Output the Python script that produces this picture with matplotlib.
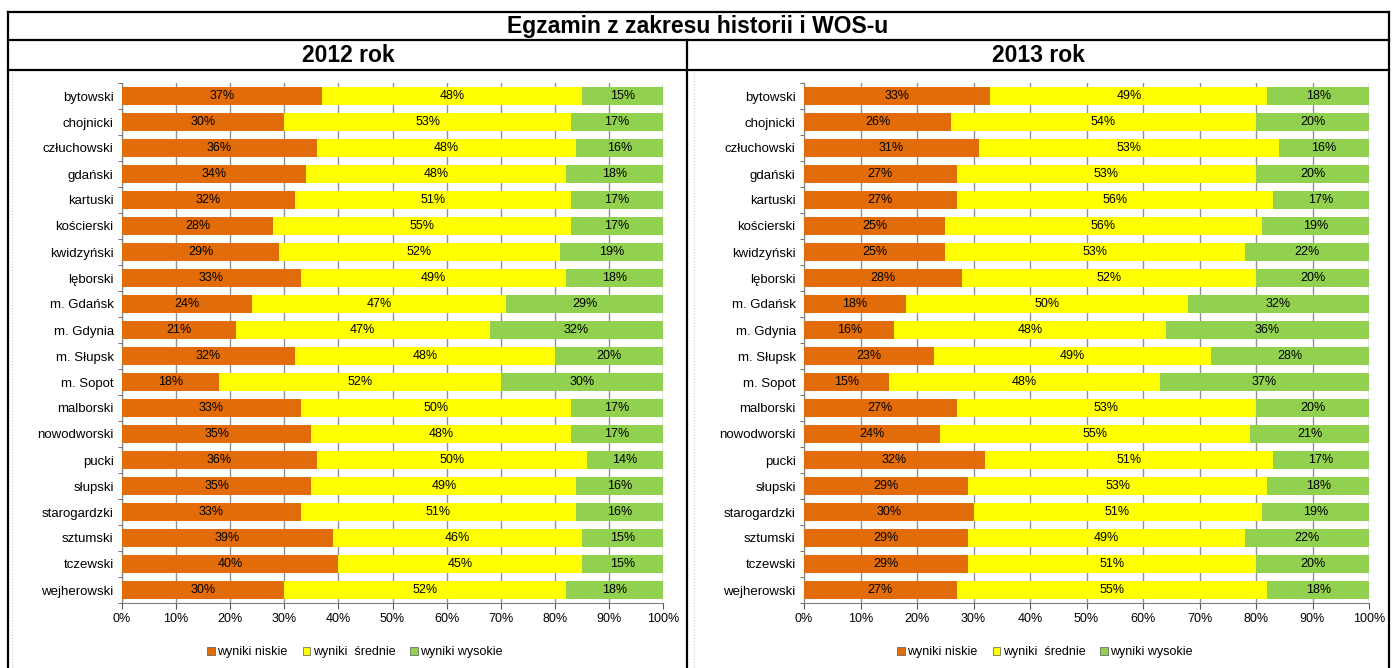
import numpy as np
import matplotlib
matplotlib.use("Agg")
import matplotlib.pyplot as plt
from matplotlib.lines import Line2D
from matplotlib.patches import Patch

plt.rcParams['font.family'] = ['Liberation Sans Narrow', 'Liberation Sans', 'DejaVu Sans']

powiaty = ["bytowski", "chojnicki", "człuchowski", "gdański", "kartuski", "kościerski",
           "kwidzyński", "lęborski", "m. Gdańsk", "m. Gdynia", "m. Słupsk", "m. Sopot",
           "malborski", "nowodworski", "pucki", "słupski", "starogardzki", "sztumski",
           "tczewski", "wejherowski"]

niskie_2012 = [37, 30, 36, 34, 32, 28, 29, 33, 24, 21, 32, 18, 33, 35, 36, 35, 33, 39, 40, 30]
srednie_2012 = [48, 53, 48, 48, 51, 55, 52, 49, 47, 47, 48, 52, 50, 48, 50, 49, 51, 46, 45, 52]
wysokie_2012 = [15, 17, 16, 18, 17, 17, 19, 18, 29, 32, 20, 30, 17, 17, 14, 16, 16, 15, 15, 18]

niskie_2013 = [33, 26, 31, 27, 27, 25, 25, 28, 18, 16, 23, 15, 27, 24, 32, 29, 30, 29, 29, 27]
srednie_2013 = [49, 54, 53, 53, 56, 56, 53, 52, 50, 48, 49, 48, 53, 55, 51, 53, 51, 49, 51, 55]
wysokie_2013 = [18, 20, 16, 20, 17, 19, 22, 20, 32, 36, 28, 37, 20, 21, 17, 18, 19, 22, 20, 18]

serie = ["wyniki niskie", "wyniki  średnie", "wyniki wysokie"]
kolory = ["#E36C0A", "#FFFF00", "#92D050"]

W, H = 1392, 668
fig = plt.figure(figsize=(W / 100, H / 100), dpi=100)


def fx(px):
    return px / W


def fy(py):
    return 1 - py / H


def draw_panel(x0, x1, dane, leg_cx):
    ax = fig.add_axes([fx(x0), fy(603), fx(x1 - x0), fy(83) - fy(603)])
    y = np.arange(len(powiaty))
    left = np.zeros(len(powiaty))
    for vals, kol in zip(dane, kolory):
        v = np.array(vals, dtype=float)
        ax.barh(y, v, left=left, height=0.66, color=kol, edgecolor='none', zorder=3)
        for yi, (l, w) in enumerate(zip(left, v)):
            ax.text(l + w / 2, yi, f"{int(w)}%", ha='center', va='center',
                    fontsize=9, zorder=4)
        left += v
    ax.set_xlim(0, 100)
    ax.set_ylim(len(powiaty) - 0.5, -0.5)
    ax.set_yticks(y)
    ax.set_yticklabels(powiaty, fontsize=9.5)
    ax.set_yticks(np.arange(-0.5, len(powiaty), 1), minor=True)
    ax.tick_params(axis='y', which='major', length=0, pad=6)
    ax.tick_params(axis='y', which='minor', length=3, color='#555555')
    ax.set_xticks(np.arange(0, 101, 10))
    ax.set_xticklabels([f"{t}%" for t in range(0, 101, 10)], fontsize=9)
    ax.tick_params(axis='x', length=4, color='#555555')
    ax.xaxis.grid(True, color='#909090', linewidth=1, zorder=0)
    for s in ['top', 'right']:
        ax.spines[s].set_visible(False)
    ax.spines['left'].set_color('#808080')
    ax.spines['bottom'].set_color('#808080')
    handles = [Patch(facecolor=k, edgecolor='#555555', linewidth=0.5) for k in kolory]
    fig.legend(handles, serie, loc='center', bbox_to_anchor=(fx(leg_cx), fy(652)),
               ncol=3, frameon=False, fontsize=9, handlelength=0.6, handleheight=0.6,
               handletextpad=0.2, columnspacing=1.2)
    return ax


draw_panel(122, 663, [niskie_2012, srednie_2012, wysokie_2012], 355)
draw_panel(804, 1369, [niskie_2013, srednie_2013, wysokie_2013], 1045)

# table frame
lw = 1.6
fig.add_artist(Line2D([fx(8), fx(1389)], [fy(12), fy(12)], color='black', lw=lw))
fig.add_artist(Line2D([fx(8), fx(1389)], [fy(40), fy(40)], color='black', lw=lw))
fig.add_artist(Line2D([fx(8), fx(1389)], [fy(70), fy(70)], color='black', lw=lw))
fig.add_artist(Line2D([fx(8), fx(8)], [fy(12), 0], color='black', lw=lw))
fig.add_artist(Line2D([fx(1389), fx(1389)], [fy(12), 0], color='black', lw=lw))
fig.add_artist(Line2D([fx(687), fx(687)], [fy(40), 0], color='black', lw=lw))
fig.add_artist(Line2D([fx(694), fx(694)], [fy(72), 0], color='#cccccc', lw=0.8, ls=':'))
fig.add_artist(Line2D([fx(12), fx(12)], [fy(72), 0], color='#cccccc', lw=0.8, ls=':'))

fig.text(fx(698), fy(26), "Egzamin z zakresu historii i WOS-u", ha='center', va='center',
         fontsize=16.5, fontweight='bold', family=['Liberation Sans', 'DejaVu Sans'])
fig.text(fx(348), fy(55), "2012 rok", ha='center', va='center',
         fontsize=16.5, fontweight='bold', family=['Liberation Sans', 'DejaVu Sans'])
fig.text(fx(1038), fy(55), "2013 rok", ha='center', va='center',
         fontsize=16.5, fontweight='bold', family=['Liberation Sans', 'DejaVu Sans'])

fig.savefig("out.png", dpi=100)
